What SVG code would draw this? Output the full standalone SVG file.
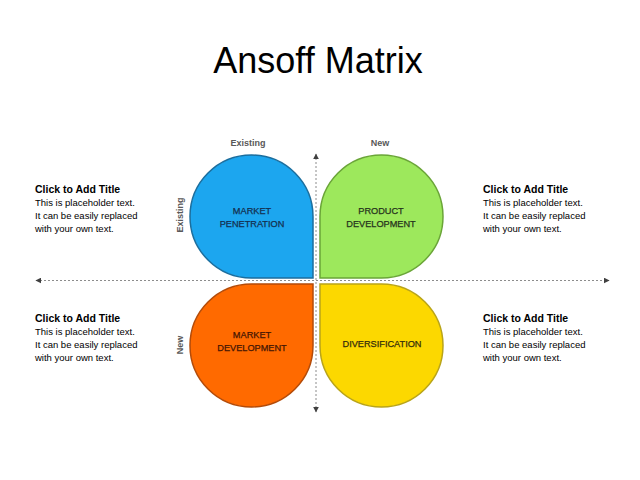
<svg xmlns="http://www.w3.org/2000/svg" width="640" height="480" viewBox="0 0 640 480">
<defs>
<style>
.title{font-family:"Liberation Sans",Arial,sans-serif;font-size:36px;fill:#000;text-anchor:middle}
.h{font-family:"Liberation Sans",Arial,sans-serif;font-size:10.5px;font-weight:bold;fill:#000}
.b{font-family:"Liberation Sans",Arial,sans-serif;font-size:9.5px;fill:#000}
.ax{font-family:"Liberation Sans",Arial,sans-serif;font-size:9px;font-weight:bold;fill:#595959;text-anchor:middle}
.lbl{font-family:"Liberation Sans",Arial,sans-serif;font-size:9.2px;text-anchor:middle;stroke-width:0.25}
.axis{stroke:#8c8c8c;stroke-width:1;stroke-dasharray:2,2;fill:none}
</style>
<marker id="arr" viewBox="0 0 10 10" refX="9" refY="5" markerWidth="6" markerHeight="6" orient="auto-start-reverse" markerUnits="userSpaceOnUse">
<path d="M0,0 L10,5 L0,10 Z" fill="#404040"/>
</marker>
</defs>
<rect width="640" height="480" fill="#fff"/>
<text class="title" x="318" y="73">Ansoff Matrix</text>

<g id="connectors">
<line class="axis" x1="316" y1="154" x2="316" y2="412" marker-start="url(#arr)" marker-end="url(#arr)"/>
<line class="axis" x1="36" y1="280.5" x2="609" y2="280.5" marker-start="url(#arr)" marker-end="url(#arr)"/>
</g>

<g id="market-penetration">
<path d="M313 278 L251.5 278 A61.5 61.5 0 1 1 313 216.5 Z" fill="#1ca6ef" stroke="#1b6e9e" stroke-width="1.5"/>
<text class="lbl" fill="#14304f" stroke="#14304f" x="252" y="214">MARKET</text>
<text class="lbl" fill="#14304f" stroke="#14304f" x="252" y="227">PENETRATION</text>
</g>
<g id="product-development">
<path d="M320 278 L320 216.5 A61.5 61.5 0 1 1 381.5 278 Z" fill="#9de85c" stroke="#6aa537" stroke-width="1.5"/>
<text class="lbl" fill="#26331c" stroke="#26331c" x="381" y="214">PRODUCT</text>
<text class="lbl" fill="#26331c" stroke="#26331c" x="381" y="227">DEVELOPMENT</text>
</g>
<g id="market-development">
<path d="M313 284 L313 345.5 A61.5 61.5 0 1 1 251.5 284 Z" fill="#ff6a00" stroke="#b44b08" stroke-width="1.5"/>
<text class="lbl" fill="#451604" stroke="#451604" x="252" y="338">MARKET</text>
<text class="lbl" fill="#451604" stroke="#451604" x="252" y="351">DEVELOPMENT</text>
</g>
<g id="diversification">
<path d="M320 284 L381.5 284 A61.5 61.5 0 1 1 320 345.5 Z" fill="#fcd800" stroke="#b9a418" stroke-width="1.5"/>
<text class="lbl" fill="#352d0c" stroke="#352d0c" x="382" y="347" font-size="8.9">DIVERSIFICATION</text>
</g>

<g id="axis-labels">
<text class="ax" x="248" y="146">Existing</text>
<text class="ax" x="380" y="146">New</text>
<text class="ax" transform="translate(183 215) rotate(-90)">Existing</text>
<text class="ax" transform="translate(183 345) rotate(-90)">New</text>
</g>

<g id="text-top-left">
<text class="h" x="35" y="193">Click to Add Title</text>
<text class="b" x="35" y="206">This is placeholder text.</text>
<text class="b" x="35" y="219">It can be easily replaced</text>
<text class="b" x="35" y="232">with your own text.</text>
</g>
<g id="text-top-right">
<text class="h" x="483" y="193">Click to Add Title</text>
<text class="b" x="483" y="206">This is placeholder text.</text>
<text class="b" x="483" y="219">It can be easily replaced</text>
<text class="b" x="483" y="232">with your own text.</text>
</g>
<g id="text-bottom-left">
<text class="h" x="35" y="322">Click to Add Title</text>
<text class="b" x="35" y="335">This is placeholder text.</text>
<text class="b" x="35" y="348">It can be easily replaced</text>
<text class="b" x="35" y="361">with your own text.</text>
</g>
<g id="text-bottom-right">
<text class="h" x="483" y="322">Click to Add Title</text>
<text class="b" x="483" y="335">This is placeholder text.</text>
<text class="b" x="483" y="348">It can be easily replaced</text>
<text class="b" x="483" y="361">with your own text.</text>
</g>
</svg>
